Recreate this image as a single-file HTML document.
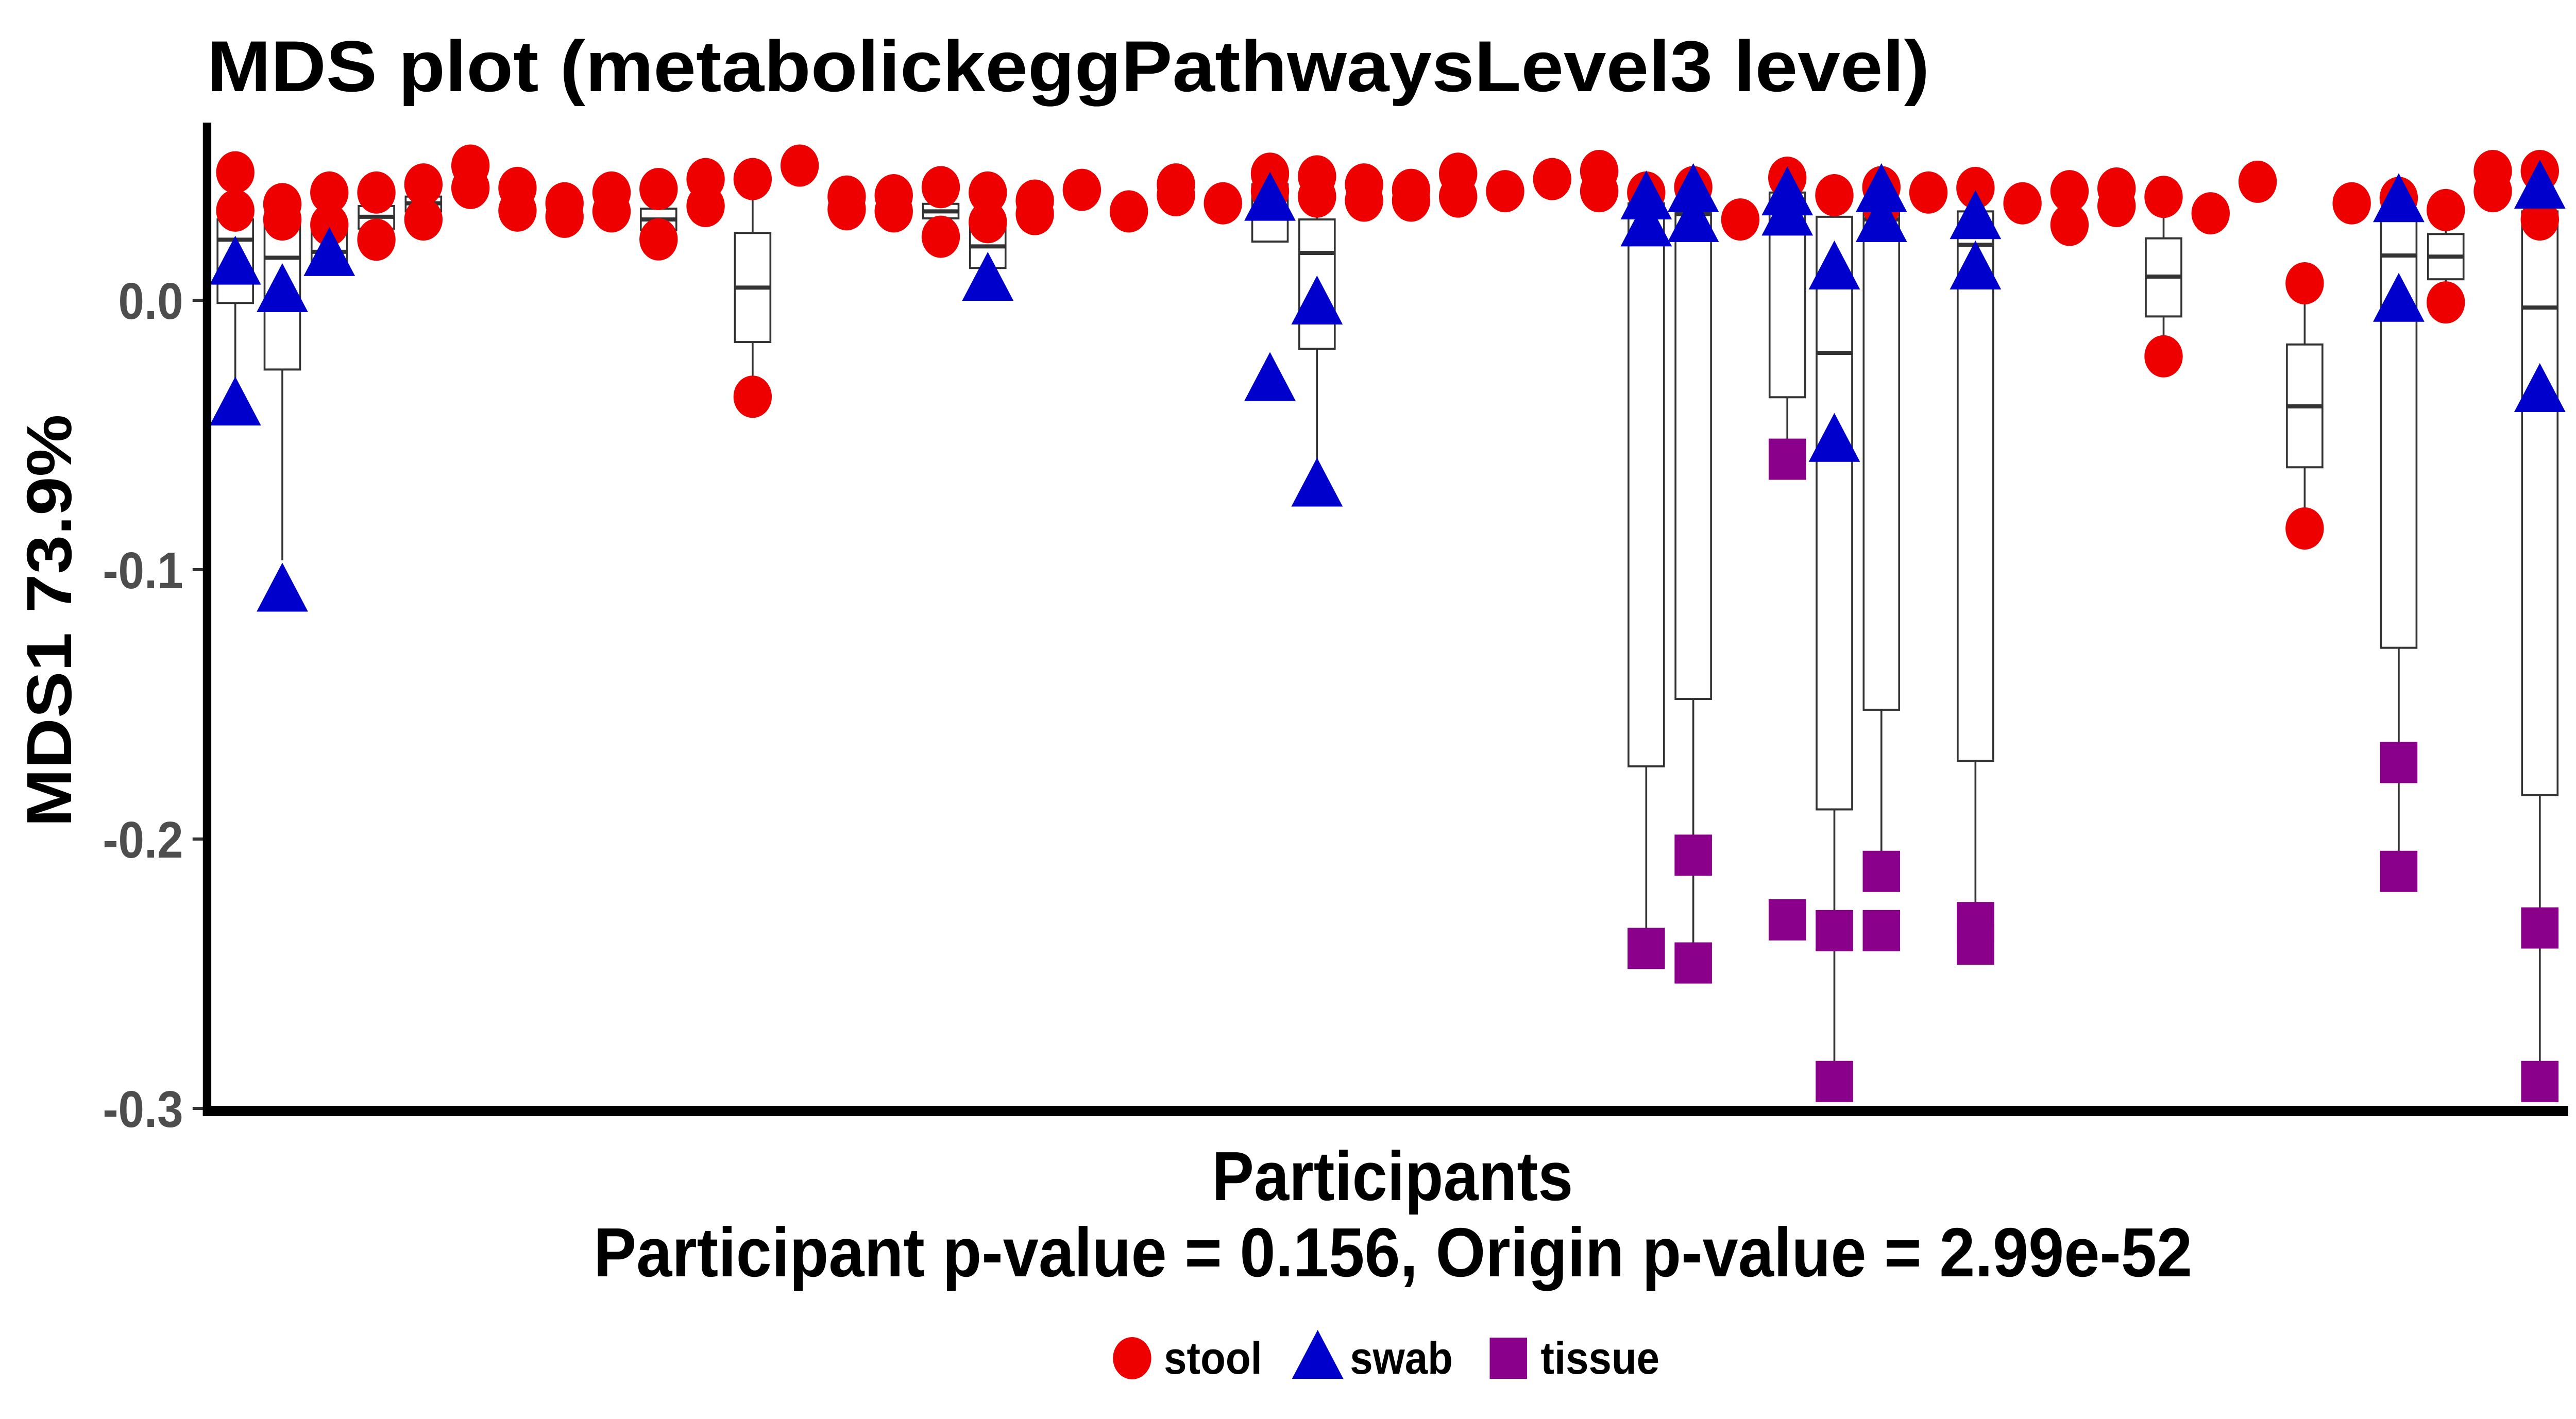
<!DOCTYPE html>
<html><head><meta charset="utf-8"><style>
html,body{margin:0;padding:0;background:#fff;overflow:hidden;width:100%;height:100%}
svg{display:block;width:100vw;height:100vh}
text{font-family:"Liberation Sans",Arial,sans-serif;font-weight:bold}
</style></head><body>
<svg id="chart" viewBox="0 0 5511 2755" preserveAspectRatio="none" xmlns="http://www.w3.org/2000/svg">
<rect width="5511" height="2755" fill="#fff"/>
<text x="443" y="177" font-size="140" textLength="3685" lengthAdjust="spacingAndGlyphs" fill="#000">MDS plot (metabolickeggPathwaysLevel3 level)</text>
<g id="boxes"></g>
<g id="points"></g>
<g id="yaxis"></g>
<line x1="434" y1="2157" x2="5494" y2="2157" stroke="#000" stroke-width="20"/>
<line x1="443" y1="238" x2="443" y2="2166" stroke="#000" stroke-width="18"/>
<text transform="translate(152,1205) rotate(-90)" text-anchor="middle" font-size="136" fill="#000">MDS1 73.9%</text>
<text x="2979" y="2330" text-anchor="middle" font-size="135" fill="#000">Participants</text>
<text x="2980" y="2478" text-anchor="middle" font-size="135" textLength="3420" lengthAdjust="spacingAndGlyphs" fill="#000">Participant p-value = 0.156, Origin p-value = 2.99e-52</text>
<g>
<circle cx="2422" cy="2637" r="41" fill="#EE0000"/>
<text x="2490" y="2667" font-size="88" fill="#000">stool</text>
<polygon points="2819,2582 2874,2677 2764,2677" fill="#0000CD"/>
<text x="2888" y="2667" font-size="88" fill="#000">swab</text>
<rect x="3187" y="2597" width="80" height="80" fill="#8B008B"/>
<text x="3296" y="2667" font-size="88" fill="#000">tissue</text>
</g>
</svg>
<script>
const yTicks = [0.0, -0.1, -0.2, -0.3];
const yTickLabels = ["0.0", "-0.1", "-0.2", "-0.3"];
const nParticipants = 50;
const stoolX = [0,0,1,1,2,2,3,3,4,4,5,5,6,6,7,7,8,8,9,9,10,10,11,11,12,13,13,14,14,15,15,16,16,17,17,18,19,20,20,21,22,22,23,23,24,24,25,25,26,26,27,28,29,29,30,31,32,33,34,35,35,36,37,38,39,39,40,40,41,41,42,43,44,44,45,46,47,47,48,48,49,49];
const stoolY = [0.0475,0.0333,0.0357,0.030,0.040,0.028,0.040,0.0225,0.043,0.030,0.050,0.0417,0.0417,0.0333,0.036,0.031,0.040,0.033,0.0413,0.0226,0.045,0.035,0.045,-0.0358,0.050,0.0385,0.0338,0.039,0.033,0.042,0.0236,0.040,0.029,0.037,0.032,0.041,0.033,0.043,0.039,0.036,0.047,0.0405,0.046,0.0385,0.043,0.037,0.041,0.037,0.047,0.0385,0.0405,0.045,0.048,0.0405,0.040,0.042,0.030,0.0455,0.039,0.042,0.035,0.040,0.0417,0.036,0.0405,0.028,0.0415,0.035,0.0384,-0.0208,0.0323,0.044,0.0063,-0.0847,0.036,0.038,0.0335,-0.0008,0.048,0.0405,0.048,0.030];
const swabX = [0,0,1,1,2,16,22,22,23,23,30,30,31,31,33,33,34,34,35,35,37,37,46,46,49,49];
const swabY = [0.0148,-0.0375,0.0046,-0.1066,0.018,0.0088,0.0385,-0.0284,0.0,-0.0676,0.039,0.029,0.0417,0.0306,0.0405,0.033,0.013,-0.051,0.0417,0.0306,0.0317,0.013,0.038,0.001,0.043,-0.0325];
const tissueX = [30,31,31,33,33,34,34,35,35,37,37,46,46,49,49];
const tissueY = [-0.2406,-0.206,-0.246,-0.059,-0.230,-0.234,-0.290,-0.212,-0.234,-0.231,-0.239,-0.1716,-0.212,-0.233,-0.290];
const boxIdx = [0,1,2,3,4,9,11,15,16,22,23,30,31,33,34,35,37,41,44,46,47,49];
const boxLo  = [-0.038,-0.0965,0.010,0.0225,0.030,0.0226,-0.0358,0.0236,0.0088,0.0218,-0.0676,-0.2406,-0.246,-0.059,-0.290,-0.212,-0.234,-0.0208,-0.0847,-0.212,-0.0008,-0.290];
const boxQ1  = [-0.001,-0.0257,0.0103,0.0266,0.033,0.026,-0.0155,0.0304,0.012,0.0218,-0.018,-0.173,-0.148,-0.036,-0.189,-0.152,-0.171,-0.006,-0.062,-0.129,0.0078,-0.1837];
const boxMed = [0.0225,0.0158,0.018,0.031,0.036,0.030,0.0047,0.033,0.020,0.0395,0.0176,0.033,0.032,0.033,-0.0195,0.030,0.0206,0.0088,-0.0394,0.0166,0.0162,-0.0027];
const boxQ3  = [0.030,0.030,0.0266,0.035,0.0385,0.034,0.025,0.0358,0.027,0.043,0.030,0.036,0.036,0.040,0.031,0.036,0.033,0.023,-0.0164,0.0306,0.0246,0.033];
const boxHi  = [0.0475,0.0357,0.040,0.040,0.043,0.0413,0.045,0.042,0.040,0.047,0.046,0.040,0.042,0.0455,0.039,0.042,0.0417,0.0384,0.0063,0.038,0.0335,0.048];

const NS = "http://www.w3.org/2000/svg";
const X0 = 443, X1 = 5494;
const unit = (X1 - X0) / (nParticipants - 1 + 1.2);
function xScale(i){ return X0 + unit * (0.6 + i); }
function yScale(v){ return 583 - v * 5230; }
function mk(tag, attrs, parent){
  const el = document.createElementNS(NS, tag);
  for (const k in attrs) el.setAttribute(k, attrs[k]);
  parent.appendChild(el);
  return el;
}
const yAxis = document.getElementById('yaxis');
yTicks.forEach((t, k) => {
  const y = yScale(t);
  const tk = mk('line', {x1: 412, x2: 436, y1: y, y2: y, stroke: '#333', 'stroke-width': 6}, yAxis);
  
  
  const lb = mk('text', {x: 392, y: y + 36, 'text-anchor': 'end', 'font-size': 100, fill: '#4D4D4D'}, yAxis);
  lb.textContent = yTickLabels[k];
  
  
});
const boxes = document.getElementById('boxes');
const bw = 76;
boxIdx.forEach((p, k) => {
  const cx = xScale(p);
  const g = mk('g', {}, boxes);
  
  
  mk('line', {x1: cx, x2: cx, y1: yScale(boxHi[k]), y2: yScale(boxQ3[k]), stroke: '#333', 'stroke-width': 4}, g);
  mk('line', {x1: cx, x2: cx, y1: yScale(boxQ1[k]), y2: yScale(boxLo[k]), stroke: '#333', 'stroke-width': 4}, g);
  mk('rect', {x: cx - bw/2, y: yScale(boxQ3[k]), width: bw, height: Math.max(1, yScale(boxQ1[k]) - yScale(boxQ3[k])), fill: '#fff', stroke: '#333', 'stroke-width': 4}, g);
  mk('line', {x1: cx - bw/2, x2: cx + bw/2, y1: yScale(boxMed[k]), y2: yScale(boxMed[k]), stroke: '#333', 'stroke-width': 8}, g);
});
const pts = document.getElementById('points');
stoolX.forEach((p, k) => {
  const c = mk('circle', {cx: xScale(p), cy: yScale(stoolY[k]), r: 41, fill: '#EE0000'}, pts);
  
  
});
swabX.forEach((p, k) => {
  const x = xScale(p), y = yScale(swabY[k]);
  const t = mk('polygon', {points: `${x},${y-48} ${x+55},${y+47} ${x-55},${y+47}`, fill: '#0000CD'}, pts);
  
  
});
tissueX.forEach((p, k) => {
  const x = xScale(p), y = yScale(tissueY[k]);
  const s = mk('rect', {x: x - 40, y: y - 40, width: 80, height: 80, fill: '#8B008B'}, pts);
  
  
});
</script>
</body></html>
